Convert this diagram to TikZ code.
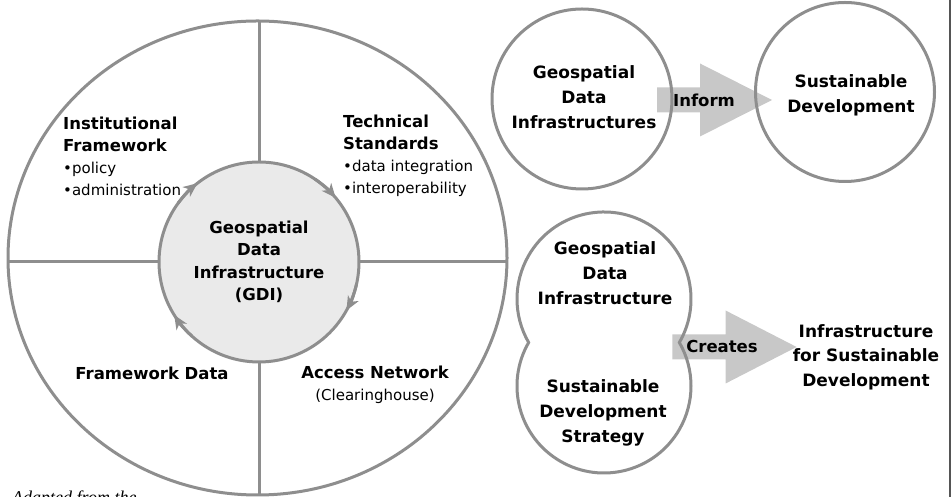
\documentclass[tikz,border=0pt]{standalone}
\usepackage{fontspec}
\setmainfont{DejaVu Sans}
\newfontfamily\notefont{Liberation Serif}
\usepackage{tikz}
\usetikzlibrary{shapes.geometric, arrows.meta, calc, backgrounds}
\definecolor{RingGray}{HTML}{8E8E8E}
\definecolor{CoreGray}{HTML}{EAEAEA}
\definecolor{ArrowGray}{HTML}{C8C8C8}
\definecolor{EdgeGray}{HTML}{555555}
\newcommand{\itemtext}[1]{{\fontsize{15}{22}\selectfont #1}}
\tikzset{
  % Shape styles
  ring/.style={ellipse, draw=RingGray, line width=3pt, inner sep=0pt, outer sep=0pt},
  corecircle/.style={circle, draw=RingGray, fill=CoreGray, line width=3pt, inner sep=0pt, outer sep=0pt, minimum size=200pt, font=\fontsize{16.5}{22.5}\selectfont\bfseries, align=center},
  bubble/.style={circle, draw=RingGray, line width=3pt, inner sep=0pt, outer sep=0pt},
  blob/.style={circle, inner sep=0pt, outer sep=0pt, minimum size=174pt},
  % Text styles
  quadtext/.style={font=\fontsize{16.5}{22}\selectfont, align=left, inner sep=0pt},
  quadtitle/.style={font=\fontsize{16.5}{22}\selectfont\bfseries, align=center, inner sep=0pt},
  bubbletext/.style={font=\fontsize{17}{25}\selectfont\bfseries, align=center, inner sep=0pt},
  arrowtext/.style={font=\fontsize{16.5}{20}\selectfont\bfseries, inner sep=0pt},
  % Line styles
  divider/.style={draw=RingGray, line width=3pt},
  turnarrow/.style={draw=RingGray, line width=3pt, -{Stealth[length=14pt, width=12pt, inset=4pt]}},
  blockarrow/.style={fill=ArrowGray}
}

\begin{document}
\begin{tikzpicture}[x=1pt, y=1pt]
  \useasboundingbox (0,0) rectangle (951,497);

  % GDI wheel
  \node[ring, minimum width=499pt, minimum height=474pt] (ring) at (257.5,239) {};
  \draw[divider] (259,235) -- (259,235 |- ring.north);
  \draw[divider] (259,235) -- (259,235 |- ring.south);
  \draw[divider] (259,235) -- (259,235 -| ring.west);
  \draw[divider] (259,235) -- (259,235 -| ring.east);
  \node[corecircle] (gdi) at (259,235) {Geospatial\\Data\\Infrastructure\\(GDI)};

  \draw[turnarrow] (gdi.144) arc[start angle=144, end angle=128, radius=100pt];
  \draw[turnarrow] (gdi.56) arc[start angle=56, end angle=40, radius=100pt];
  \draw[turnarrow] (gdi.-13) arc[start angle=-13, end angle=-29, radius=100pt];
  \draw[turnarrow] (gdi.228) arc[start angle=228, end angle=212, radius=100pt];

  \node[quadtext, anchor=west] (inst) at (63,341) {\textbf{Institutional}\\\textbf{Framework}\\\itemtext{•policy}\\\itemtext{•administration}};
  \node[quadtext, anchor=west] (tech) at (343,341) {\textbf{Technical}\\\textbf{Standards}\\\itemtext{•data integration}\\\itemtext{•interoperability}};
  \node[quadtitle] (fdata) at (152,124) {Framework Data};
  \node[quadtitle] (access) at (375,112.5) {Access Network\\\itemtext{\mdseries(Clearinghouse)}};

  % Inform
  \node[bubble, minimum size=180pt] (gdiA) at (582,398) {};
  \node[bubble, minimum size=179pt] (sdA) at (845,405) {};
  \node[bubbletext] (gdiAtxt) at (584,400) {Geospatial\\Data\\Infrastructures};
  \node[bubbletext] (sdAtxt) at (851,402) {Sustainable\\Development};
  \coordinate (iTail) at ($(gdiA.east)+(-15,-1)$);
  \coordinate (iTip) at ($(sdA.west)+(16.5,-8)$);
  \begin{scope}[on background layer]
    \fill[blockarrow] ($(iTail)+(0,12.5)$) -- ($(iTip)+(-72,12.5)$) -- ($(iTip)+(-72,36.5)$) -- (iTip)
      -- ($(iTip)+(-72,-36.5)$) -- ($(iTip)+(-72,-12.5)$) -- ($(iTail)+(0,-12.5)$) -- cycle;
  \end{scope}
  \node[arrowtext] (inform) at (704,397) {Inform};

  % Creates
  \node[blob] (gdiB) at (604,198) {};
  \node[blob] (sdsB) at (604,111) {};
  \draw[divider] (gdiB.-30) arc[start angle=-30, end angle=210, radius=87pt]
    arc[start angle=150, end angle=390, radius=87pt] -- cycle;
  \node[bubbletext] (gdiBtxt) at (605,224) {Geospatial\\Data\\Infrastructure};
  \node[bubbletext] (sdsBtxt) at (603,84) {Sustainable\\Development\\Strategy};
  \node[bubbletext, font=\fontsize{17}{24.5}\selectfont\bfseries] (isd) at (866,140) {Infrastructure\\for Sustainable\\Development};
  \coordinate (cTail) at ($(gdiB.-30)+(-7,-4.5)$);
  \coordinate (cTip) at ($(isd.west)+(4,10)$);
  \begin{scope}[on background layer]
    \fill[blockarrow] ($(cTail)+(0,12.5)$) -- ($(cTip)+(-71,12.5)$) -- ($(cTip)+(-71,36.5)$) -- (cTip)
      -- ($(cTip)+(-71,-36.5)$) -- ($(cTip)+(-71,-12.5)$) -- ($(cTail)+(0,-12.5)$) -- cycle;
  \end{scope}
  \node[arrowtext] (creates) at (722,150) {Creates};

  % frame and note
  \draw[EdgeGray, line width=1.5pt] (950,497) -- (950,0);
  \node[anchor=base west, inner sep=0pt, font=\notefont\itshape\fontsize{18}{20}\selectfont] (note) at (12,-7) {Adapted from the};
\end{tikzpicture}
\end{document}
